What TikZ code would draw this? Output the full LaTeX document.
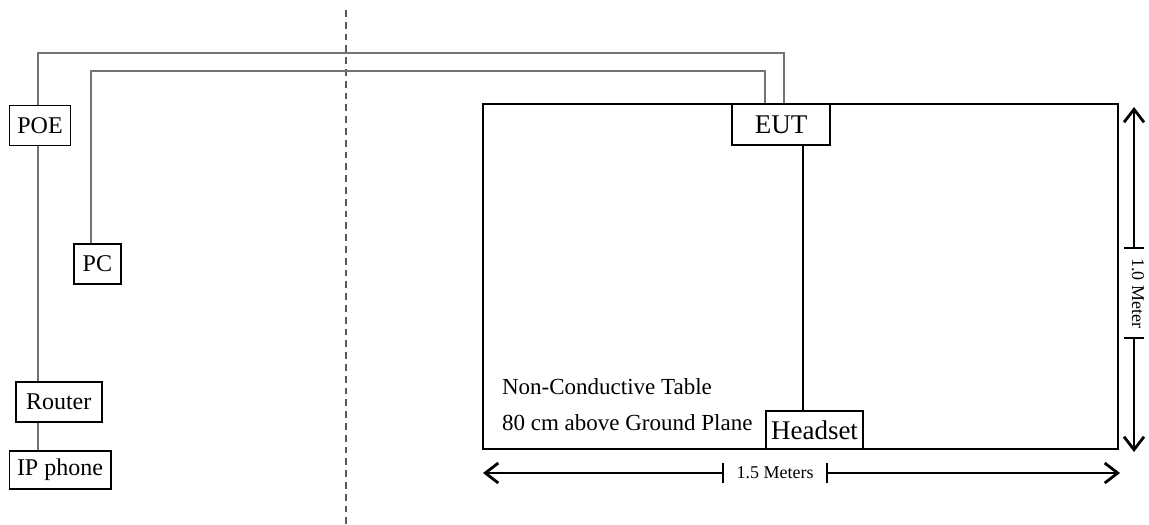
\documentclass[tikz,border=0pt]{standalone}
\usepackage{fontspec}
\setmainfont{Liberation Serif}
\usetikzlibrary{arrows.meta}

\tikzset{
  cable/.style={draw=black!55,line width=1pt},
  dimline/.style={line width=0.8pt,
    arrows={Bar[width=10pt]-Straight Barb[length=6.5pt,width=10pt,line width=1.4pt]}}
}

\begin{document}
\begin{tikzpicture}[x=0.5pt,y=-0.5pt]
		\useasboundingbox (0,0) rectangle (1149,524);
		% room boundary
		\draw[black!65,line width=1pt,dash pattern=on 3.4pt off 2.5pt] (346,10) -- (346,524);
		% table
		\coordinate (tl) at (483,104);
		\coordinate (br) at (1118,449);
		\draw[line width=0.8pt] (tl) rectangle (br);

		\begin{scope}[every node/.style={draw,rectangle,fill=white,line width=0.8pt,inner sep=0pt,
		              font=\fontsize{12}{14}\selectfont}]
			\node[minimum width=30.5pt,minimum height=20pt] (poe) at (40,125.5) {POE};
			\node[minimum width=23.5pt,minimum height=20pt] (pc) at (97.4,264) {PC};
			\node[minimum width=43pt,minimum height=20pt] (router) at (58.7,402) {Router};
			\node[minimum width=50.7pt,minimum height=19pt] (phone) at (60,470) {IP phone};
			\node[minimum width=49pt,minimum height=20.5pt,font=\fontsize{13.5}{15}\selectfont] (eut) at (781,124.7) {EUT};
			\node[minimum width=48.5pt,minimum height=19pt,font=\fontsize{13.5}{15}\selectfont] (headset) at (814.5,430) {Headset};
		\end{scope}

		\begin{scope}[every path/.style={cable}]
			\draw ([xshift=-1pt]poe.north) |- ([xshift=1.5pt,yshift=25pt]eut.north) -- ([xshift=1.5pt]eut.north);
			\draw ([xshift=-3pt]pc.north) |- ([xshift=-8pt,yshift=16pt]eut.north) -- ([xshift=-8pt]eut.north);
			\draw ([xshift=-1pt]poe.south) -- ([xshift=-1pt]poe.south |- router.north);
			\draw ([xshift=-1pt]poe.south |- router.south) -- ([xshift=-1pt]poe.south |- phone.north);
		\end{scope}
		\draw[line width=0.8pt] ([xshift=11pt]eut.south) -- ([xshift=11pt]eut.south |- headset.north);

		\node[anchor=west,font=\fontsize{11.5}{13}\selectfont] (tbl) at (495,387) {Non-Conductive Table};
		\node[anchor=west,font=\fontsize{11.5}{13}\selectfont] (gnd) at (495,423) {80 cm above Ground Plane};

		% dimensions
		\node[rotate=-90,inner xsep=4.5pt,inner ysep=0pt,font=\fontsize{9}{10}\selectfont] (vlen) at (1138,293) {1.0 Meter};
		\coordinate (vtop) at (1134,107);
		\coordinate (vbot) at (1134,452);
		\draw[dimline] (vlen.west -| vtop) -- (vtop);
		\draw[dimline] (vlen.east -| vbot) -- (vbot);

		\node[inner xsep=6.25pt,inner ysep=0pt,font=\fontsize{9}{10}\selectfont] (hlen) at (775,473) {1.5 Meters};
		\coordinate (hleft) at (483,473);
		\coordinate (hright) at (1120,473);
		\draw[dimline] (hlen.west) -- (hleft);
		\draw[dimline] (hlen.east) -- (hright);
\end{tikzpicture}
\end{document}
